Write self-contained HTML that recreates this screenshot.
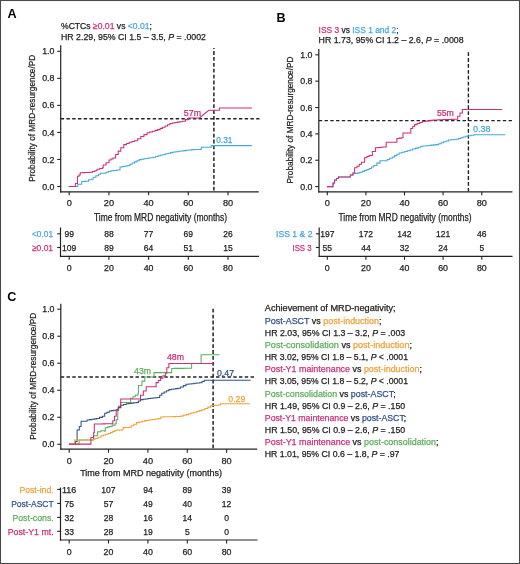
<!DOCTYPE html><html><head><meta charset="utf-8"><style>html,body{margin:0;padding:0;background:#fff;width:520px;height:564px;overflow:hidden}svg{display:block;will-change:transform}</style></head><body><svg width="520" height="564" viewBox="0 0 520 564" font-family='"Liberation Sans", sans-serif'>
<rect x="0" y="0" width="520" height="564" fill="#fff"/>
<rect x="0.5" y="0.5" width="519" height="563" fill="none" stroke="#4a4a4a" stroke-width="1.1"/>
<text x="7.5" y="17.7" font-size="12.6" fill="#000" stroke="#000" stroke-width="0" font-weight="bold">A</text>
<text x="61" y="28.6" font-size="9" fill="#222" stroke="#222" stroke-width="0.25" textLength="91" lengthAdjust="spacingAndGlyphs">%CTCs <tspan fill="#cd2f7c" stroke="#cd2f7c">≥0.01</tspan> vs <tspan fill="#48a8d6" stroke="#48a8d6">&lt;0.01</tspan>;</text>
<text x="61" y="39.6" font-size="9" fill="#222" stroke="#222" stroke-width="0.25" textLength="145" lengthAdjust="spacingAndGlyphs">HR 2.29, 95% CI 1.5 – 3.5, <tspan font-style="italic">P</tspan> = .0002</text>
<line x1="60.7" y1="45.2" x2="60.7" y2="192.4" stroke="#222" stroke-width="1.2"/>
<line x1="60.1" y1="191.8" x2="258.8" y2="191.8" stroke="#222" stroke-width="1.2"/>
<line x1="57.2" y1="186.5" x2="60.7" y2="186.5" stroke="#222" stroke-width="1.1"/>
<text x="54.400000000000006" y="189.6" font-size="8.8" fill="#222" stroke="#222" stroke-width="0.25" text-anchor="end">0.0</text>
<line x1="57.2" y1="159.46" x2="60.7" y2="159.46" stroke="#222" stroke-width="1.1"/>
<text x="54.400000000000006" y="162.56" font-size="8.8" fill="#222" stroke="#222" stroke-width="0.25" text-anchor="end">0.2</text>
<line x1="57.2" y1="132.42000000000002" x2="60.7" y2="132.42000000000002" stroke="#222" stroke-width="1.1"/>
<text x="54.400000000000006" y="135.52" font-size="8.8" fill="#222" stroke="#222" stroke-width="0.25" text-anchor="end">0.4</text>
<line x1="57.2" y1="105.38000000000001" x2="60.7" y2="105.38000000000001" stroke="#222" stroke-width="1.1"/>
<text x="54.400000000000006" y="108.48" font-size="8.8" fill="#222" stroke="#222" stroke-width="0.25" text-anchor="end">0.6</text>
<line x1="57.2" y1="78.34" x2="60.7" y2="78.34" stroke="#222" stroke-width="1.1"/>
<text x="54.400000000000006" y="81.44" font-size="8.8" fill="#222" stroke="#222" stroke-width="0.25" text-anchor="end">0.8</text>
<line x1="57.2" y1="51.30000000000001" x2="60.7" y2="51.30000000000001" stroke="#222" stroke-width="1.1"/>
<text x="54.400000000000006" y="54.40000000000001" font-size="8.8" fill="#222" stroke="#222" stroke-width="0.25" text-anchor="end">1.0</text>
<line x1="69.2" y1="191.8" x2="69.2" y2="195.3" stroke="#222" stroke-width="1.1"/>
<text x="69.2" y="206.4" font-size="9.2" fill="#222" stroke="#222" stroke-width="0.25" text-anchor="middle">0</text>
<line x1="108.9" y1="191.8" x2="108.9" y2="195.3" stroke="#222" stroke-width="1.1"/>
<text x="108.9" y="206.4" font-size="9.2" fill="#222" stroke="#222" stroke-width="0.25" text-anchor="middle">20</text>
<line x1="148.6" y1="191.8" x2="148.6" y2="195.3" stroke="#222" stroke-width="1.1"/>
<text x="148.6" y="206.4" font-size="9.2" fill="#222" stroke="#222" stroke-width="0.25" text-anchor="middle">40</text>
<line x1="188.3" y1="191.8" x2="188.3" y2="195.3" stroke="#222" stroke-width="1.1"/>
<text x="188.3" y="206.4" font-size="9.2" fill="#222" stroke="#222" stroke-width="0.25" text-anchor="middle">60</text>
<line x1="228.0" y1="191.8" x2="228.0" y2="195.3" stroke="#222" stroke-width="1.1"/>
<text x="228.0" y="206.4" font-size="9.2" fill="#222" stroke="#222" stroke-width="0.25" text-anchor="middle">80</text>
<text transform="translate(35.2,181.8) rotate(-90)" font-size="9.8" fill="#222" stroke="#222" stroke-width="0.25" textLength="127" lengthAdjust="spacingAndGlyphs">Probability of MRD-resurgence/PD</text>
<text x="94" y="220.6" font-size="10.4" fill="#222" stroke="#222" stroke-width="0.25" textLength="133" lengthAdjust="spacingAndGlyphs">Time from MRD negativity (months)</text>
<line x1="60.7" y1="118.7" x2="259.5" y2="118.7" stroke="#222" stroke-width="1.45" stroke-dasharray="3.4 2.35"/>
<line x1="213.9" y1="48.1" x2="213.9" y2="191.5" stroke="#222" stroke-width="1.5" stroke-dasharray="3.8 2.1" stroke-dashoffset="2.9"/>
<polyline points="68.80,186.50 77.80,186.50 77.80,184.20 80.50,184.20 81.70,184.20 81.70,181.50 84.00,181.50 84.00,181.35 86.30,181.35 86.30,181.20 88.60,181.20 88.60,179.80 91.00,179.80 91.00,179.20 93.20,179.20 93.20,177.30 95.90,177.30 95.90,175.75 98.60,175.75 98.60,174.20 100.50,174.20 100.50,173.20 104.00,173.20 106.00,173.20 106.00,172.30 108.40,172.30 108.40,171.55 110.80,171.55 110.80,170.80 113.90,170.80 113.90,170.40 117.00,170.40 117.00,170.00 120.00,170.00 120.00,167.00 122.57,167.00 122.57,166.47 125.13,166.47 125.13,165.93 127.70,165.93 127.70,165.40 130.00,165.40 130.00,164.20 132.30,164.20 132.30,163.00 134.60,163.00 134.60,161.87 136.90,161.87 136.90,160.73 139.20,160.73 139.20,159.60 141.50,159.60 141.50,159.22 143.80,159.22 143.80,158.83 146.10,158.83 146.10,158.45 148.40,158.45 148.40,158.07 150.70,158.07 150.70,157.68 153.00,157.68 153.00,157.30 155.60,157.30 155.60,156.53 158.20,156.53 158.20,155.77 160.80,155.77 160.80,155.00 163.24,155.00 163.24,154.40 165.68,154.40 165.68,153.80 168.12,153.80 168.12,153.20 170.56,153.20 170.56,152.60 173.00,152.60 173.00,152.00 175.64,152.00 175.64,151.66 178.29,151.66 178.29,151.31 180.93,151.31 180.93,150.97 183.57,150.97 183.57,150.63 186.21,150.63 186.21,150.29 188.86,150.29 188.86,149.94 191.50,149.94 191.50,149.60 194.33,149.60 194.33,149.53 197.17,149.53 197.17,149.47 200.00,149.47 200.00,149.40 201.25,149.40 201.25,147.25 209.40,147.25 211.25,147.25 211.25,145.60 251.90,145.60" fill="none" stroke="#48a8d6" stroke-width="1.05" stroke-linejoin="miter"/>
<polyline points="68.60,186.50 75.50,186.50 75.50,183.50 77.10,183.50 77.50,183.50 77.50,176.20 79.00,176.20 79.00,175.00 80.20,175.00 80.20,172.70 82.70,172.70 82.70,172.60 85.20,172.60 85.20,172.50 87.70,172.50 87.70,172.40 90.20,172.40 90.20,172.30 92.50,172.30 92.50,171.55 94.80,171.55 94.80,170.80 97.00,170.80 97.00,169.20 99.75,169.20 99.75,168.45 102.50,168.45 102.50,167.70 103.20,167.70 103.20,165.00 106.00,165.00 106.00,162.80 109.00,162.80 109.00,160.00 111.00,160.00 111.00,159.00 113.00,159.00 113.00,158.00 115.60,158.00 115.60,154.57 118.20,154.57 118.20,151.13 120.80,151.13 120.80,147.70 123.80,147.70 123.80,144.60 126.50,144.60 126.50,143.45 129.20,143.45 129.20,142.30 131.90,142.30 131.90,141.55 134.60,141.55 134.60,140.80 137.70,140.80 137.70,138.65 140.80,138.65 140.80,136.50 143.90,136.50 143.90,134.60 147.00,134.60 147.00,132.70 149.68,132.70 149.68,131.92 152.35,131.92 152.35,131.15 155.02,131.15 155.02,130.38 157.70,130.38 157.70,129.60 160.16,129.60 160.16,128.38 162.62,128.38 162.62,127.16 165.08,127.16 165.08,125.94 167.54,125.94 167.54,124.72 170.00,124.72 170.00,123.50 172.46,123.50 172.46,123.04 174.92,123.04 174.92,122.58 177.38,122.58 177.38,122.12 179.84,122.12 179.84,121.66 182.30,121.66 182.30,121.20 185.40,121.20 185.40,119.60 188.50,119.60 188.50,118.00 199.40,118.00" fill="none" stroke="#cd2f7c" stroke-width="1.05" stroke-linejoin="miter"/>
<polyline points="199.40,118.00 208.75,110.25 219.40,110.25 219.40,107.90 251.90,107.90" fill="none" stroke="#cd2f7c" stroke-width="1.05" stroke-linejoin="miter"/>
<text x="183.8" y="115.8" font-size="9" fill="#cd2f7c" stroke="#cd2f7c" stroke-width="0.25" textLength="17.2" lengthAdjust="spacingAndGlyphs">57m</text>
<text x="216.2" y="142.8" font-size="9" fill="#48a8d6" stroke="#48a8d6" stroke-width="0.25" textLength="16.3" lengthAdjust="spacingAndGlyphs">0.31</text>
<line x1="60.5" y1="227.5" x2="60.5" y2="256.9" stroke="#222" stroke-width="1.2"/>
<line x1="59.9" y1="256.3" x2="259" y2="256.3" stroke="#222" stroke-width="1.2"/>
<line x1="57.2" y1="233.8" x2="60.5" y2="233.8" stroke="#222" stroke-width="1.1"/>
<line x1="57.2" y1="247.5" x2="60.5" y2="247.5" stroke="#222" stroke-width="1.1"/>
<text x="53" y="236.7" font-size="9.3" fill="#48a8d6" stroke="#48a8d6" stroke-width="0.25" text-anchor="end" textLength="21" lengthAdjust="spacingAndGlyphs">&lt;0.01</text>
<text x="53" y="250.5" font-size="9.3" fill="#cd2f7c" stroke="#cd2f7c" stroke-width="0.25" text-anchor="end" textLength="21" lengthAdjust="spacingAndGlyphs">≥0.01</text>
<text x="69.2" y="236.7" font-size="9.2" fill="#222" stroke="#222" stroke-width="0.25" text-anchor="middle" textLength="9.51" lengthAdjust="spacingAndGlyphs">99</text>
<text x="69.2" y="250.5" font-size="9.2" fill="#222" stroke="#222" stroke-width="0.25" text-anchor="middle" textLength="14.27" lengthAdjust="spacingAndGlyphs">109</text>
<text x="108.9" y="236.7" font-size="9.2" fill="#222" stroke="#222" stroke-width="0.25" text-anchor="middle" textLength="9.51" lengthAdjust="spacingAndGlyphs">88</text>
<text x="108.9" y="250.5" font-size="9.2" fill="#222" stroke="#222" stroke-width="0.25" text-anchor="middle" textLength="9.51" lengthAdjust="spacingAndGlyphs">89</text>
<text x="148.6" y="236.7" font-size="9.2" fill="#222" stroke="#222" stroke-width="0.25" text-anchor="middle" textLength="9.51" lengthAdjust="spacingAndGlyphs">77</text>
<text x="148.6" y="250.5" font-size="9.2" fill="#222" stroke="#222" stroke-width="0.25" text-anchor="middle" textLength="9.51" lengthAdjust="spacingAndGlyphs">64</text>
<text x="188.3" y="236.7" font-size="9.2" fill="#222" stroke="#222" stroke-width="0.25" text-anchor="middle" textLength="9.51" lengthAdjust="spacingAndGlyphs">69</text>
<text x="188.3" y="250.5" font-size="9.2" fill="#222" stroke="#222" stroke-width="0.25" text-anchor="middle" textLength="9.51" lengthAdjust="spacingAndGlyphs">51</text>
<text x="228.0" y="236.7" font-size="9.2" fill="#222" stroke="#222" stroke-width="0.25" text-anchor="middle" textLength="9.51" lengthAdjust="spacingAndGlyphs">26</text>
<text x="228.0" y="250.5" font-size="9.2" fill="#222" stroke="#222" stroke-width="0.25" text-anchor="middle" textLength="9.51" lengthAdjust="spacingAndGlyphs">15</text>
<line x1="69.2" y1="256.3" x2="69.2" y2="259.8" stroke="#222" stroke-width="1.1"/>
<text x="69.2" y="270.7" font-size="8.8" fill="#222" stroke="#222" stroke-width="0.25" text-anchor="middle">0</text>
<line x1="108.9" y1="256.3" x2="108.9" y2="259.8" stroke="#222" stroke-width="1.1"/>
<text x="108.9" y="270.7" font-size="8.8" fill="#222" stroke="#222" stroke-width="0.25" text-anchor="middle">20</text>
<line x1="148.6" y1="256.3" x2="148.6" y2="259.8" stroke="#222" stroke-width="1.1"/>
<text x="148.6" y="270.7" font-size="8.8" fill="#222" stroke="#222" stroke-width="0.25" text-anchor="middle">40</text>
<line x1="188.3" y1="256.3" x2="188.3" y2="259.8" stroke="#222" stroke-width="1.1"/>
<text x="188.3" y="270.7" font-size="8.8" fill="#222" stroke="#222" stroke-width="0.25" text-anchor="middle">60</text>
<line x1="228.0" y1="256.3" x2="228.0" y2="259.8" stroke="#222" stroke-width="1.1"/>
<text x="228.0" y="270.7" font-size="8.8" fill="#222" stroke="#222" stroke-width="0.25" text-anchor="middle">80</text>
<text x="276.4" y="21.5" font-size="12.6" fill="#000" stroke="#000" stroke-width="0" font-weight="bold">B</text>
<text x="318.6" y="32.5" font-size="9" fill="#222" stroke="#222" stroke-width="0.25" textLength="80" lengthAdjust="spacingAndGlyphs"><tspan fill="#cd2f7c" stroke="#cd2f7c">ISS 3</tspan> vs <tspan fill="#48a8d6" stroke="#48a8d6">ISS 1 and 2</tspan>;</text>
<text x="318.6" y="43.2" font-size="9" fill="#222" stroke="#222" stroke-width="0.25" textLength="145" lengthAdjust="spacingAndGlyphs">HR 1.73, 95% CI 1.2 – 2.6, <tspan font-style="italic">P</tspan> = .0008</text>
<line x1="318.8" y1="49" x2="318.8" y2="192.4" stroke="#222" stroke-width="1.2"/>
<line x1="318.2" y1="191.8" x2="512.4" y2="191.8" stroke="#222" stroke-width="1.2"/>
<line x1="315.3" y1="186.6" x2="318.8" y2="186.6" stroke="#222" stroke-width="1.1"/>
<text x="312.5" y="189.7" font-size="8.8" fill="#222" stroke="#222" stroke-width="0.25" text-anchor="end">0.0</text>
<line x1="315.3" y1="160.23999999999998" x2="318.8" y2="160.23999999999998" stroke="#222" stroke-width="1.1"/>
<text x="312.5" y="163.33999999999997" font-size="8.8" fill="#222" stroke="#222" stroke-width="0.25" text-anchor="end">0.2</text>
<line x1="315.3" y1="133.88" x2="318.8" y2="133.88" stroke="#222" stroke-width="1.1"/>
<text x="312.5" y="136.98" font-size="8.8" fill="#222" stroke="#222" stroke-width="0.25" text-anchor="end">0.4</text>
<line x1="315.3" y1="107.51999999999998" x2="318.8" y2="107.51999999999998" stroke="#222" stroke-width="1.1"/>
<text x="312.5" y="110.61999999999998" font-size="8.8" fill="#222" stroke="#222" stroke-width="0.25" text-anchor="end">0.6</text>
<line x1="315.3" y1="81.15999999999998" x2="318.8" y2="81.15999999999998" stroke="#222" stroke-width="1.1"/>
<text x="312.5" y="84.25999999999998" font-size="8.8" fill="#222" stroke="#222" stroke-width="0.25" text-anchor="end">0.8</text>
<line x1="315.3" y1="54.79999999999998" x2="318.8" y2="54.79999999999998" stroke="#222" stroke-width="1.1"/>
<text x="312.5" y="57.899999999999984" font-size="8.8" fill="#222" stroke="#222" stroke-width="0.25" text-anchor="end">1.0</text>
<line x1="327.3" y1="191.8" x2="327.3" y2="195.3" stroke="#222" stroke-width="1.1"/>
<text x="327.3" y="206.4" font-size="9.2" fill="#222" stroke="#222" stroke-width="0.25" text-anchor="middle">0</text>
<line x1="365.9" y1="191.8" x2="365.9" y2="195.3" stroke="#222" stroke-width="1.1"/>
<text x="365.9" y="206.4" font-size="9.2" fill="#222" stroke="#222" stroke-width="0.25" text-anchor="middle">20</text>
<line x1="404.5" y1="191.8" x2="404.5" y2="195.3" stroke="#222" stroke-width="1.1"/>
<text x="404.5" y="206.4" font-size="9.2" fill="#222" stroke="#222" stroke-width="0.25" text-anchor="middle">40</text>
<line x1="443.1" y1="191.8" x2="443.1" y2="195.3" stroke="#222" stroke-width="1.1"/>
<text x="443.1" y="206.4" font-size="9.2" fill="#222" stroke="#222" stroke-width="0.25" text-anchor="middle">60</text>
<line x1="481.8" y1="191.8" x2="481.8" y2="195.3" stroke="#222" stroke-width="1.1"/>
<text x="481.8" y="206.4" font-size="9.2" fill="#222" stroke="#222" stroke-width="0.25" text-anchor="middle">80</text>
<text transform="translate(293.4,183.5) rotate(-90)" font-size="9.8" fill="#222" stroke="#222" stroke-width="0.25" textLength="127" lengthAdjust="spacingAndGlyphs">Probability of MRD-resurgence/PD</text>
<text x="338.5" y="220.5" font-size="10.4" fill="#222" stroke="#222" stroke-width="0.25" textLength="133" lengthAdjust="spacingAndGlyphs">Time from MRD negativity (months)</text>
<line x1="318.8" y1="120.6" x2="512.4" y2="120.6" stroke="#222" stroke-width="1.45" stroke-dasharray="3.4 2.35"/>
<line x1="468.4" y1="52.2" x2="468.4" y2="191.5" stroke="#222" stroke-width="1.4" stroke-dasharray="3.8 2.1" stroke-dashoffset="0"/>
<polyline points="326.90,186.60 332.30,186.60 333.00,186.60 333.00,183.00 334.60,183.00 334.60,180.00 336.55,180.00 336.55,178.45 338.50,178.45 338.50,176.90 347.70,176.90 350.35,176.90 350.35,174.95 353.00,174.95 353.00,173.00 355.40,173.00 355.40,173.40 357.70,173.40 357.70,172.85 360.00,172.85 360.00,172.30 362.30,172.30 362.30,171.35 364.60,171.35 364.60,170.40 366.90,170.40 366.90,169.45 369.20,169.45 369.20,168.50 371.50,168.50 371.50,166.95 373.80,166.95 373.80,165.40 376.90,165.40 376.90,163.10 380.00,163.10 380.00,160.80 384.60,160.80 387.17,160.80 387.17,159.50 389.73,159.50 389.73,158.20 392.30,158.20 392.30,156.90 394.60,156.90 394.60,155.60 396.90,155.60 396.90,154.30 399.20,154.30 399.20,153.00 401.90,153.00 401.90,152.25 404.60,152.25 404.60,151.50 407.30,151.50 407.30,150.75 410.00,150.75 410.00,150.00 412.70,150.00 412.70,149.05 415.40,149.05 415.40,148.10 418.10,148.10 418.10,147.15 420.80,147.15 420.80,146.20 423.37,146.20 423.37,145.93 425.93,145.93 425.93,145.67 428.50,145.67 428.50,145.40 431.07,145.40 431.07,145.13 433.63,145.13 433.63,144.87 436.20,144.87 436.20,144.60 438.66,144.60 438.66,143.68 441.12,143.68 441.12,142.76 443.58,142.76 443.58,141.84 446.04,141.84 446.04,140.92 448.50,140.92 448.50,140.00 451.07,140.00 451.07,139.73 453.63,139.73 453.63,139.47 456.20,139.47 456.20,139.20 458.50,139.20 458.50,138.45 460.80,138.45 460.80,137.70 463.10,137.70 463.10,136.95 465.40,136.95 465.40,136.20 468.20,136.20 468.20,135.70 471.00,135.70 471.00,135.20 473.80,135.20 473.80,134.70 505.40,134.70" fill="none" stroke="#48a8d6" stroke-width="1.05" stroke-linejoin="miter"/>
<polyline points="326.90,186.60 332.30,186.60 333.00,186.60 333.00,183.00 334.60,183.00 334.60,180.00 336.55,180.00 336.55,178.45 338.50,178.45 338.50,176.90 347.70,176.90 350.35,176.90 350.35,174.95 353.00,174.95 353.00,173.00 354.60,173.00 354.60,167.70 357.00,167.70 357.00,166.20 359.25,166.20 359.25,164.25 361.50,164.25 361.50,162.30 364.60,162.30 364.60,157.70 366.90,157.70 366.90,156.55 369.20,156.55 369.20,155.40 372.30,155.40 372.30,151.55 375.40,151.55 375.40,147.70 377.93,147.70 377.93,147.43 380.47,147.43 380.47,147.17 383.00,147.17 383.00,146.90 386.20,146.90 386.20,142.30 394.60,142.30 396.90,142.30 396.90,138.50 399.20,138.50 399.20,138.10 401.50,138.10 401.50,137.70 403.00,137.70 403.00,133.00 407.70,133.00 410.80,133.00 410.80,128.50 412.70,128.50 412.70,126.55 414.60,126.55 414.60,124.60 417.17,124.60 417.17,123.57 419.73,123.57 419.73,122.53 422.30,122.53 422.30,121.50 424.98,121.50 424.98,121.12 427.65,121.12 427.65,120.75 430.32,120.75 430.32,120.38 433.00,120.38 433.00,120.00 435.58,120.00 435.58,119.91 438.16,119.91 438.16,119.82 440.73,119.82 440.73,119.73 443.31,119.73 443.31,119.64 445.89,119.64 445.89,119.56 448.47,119.56 448.47,119.47 451.04,119.47 451.04,119.38 453.62,119.38 453.62,119.29 456.20,119.29 456.20,119.20 457.70,119.20 457.70,116.20 460.00,116.20 460.00,113.00 462.30,113.00 462.30,109.40 502.30,109.40" fill="none" stroke="#cd2f7c" stroke-width="1.05" stroke-linejoin="miter"/>
<text x="436.9" y="116.3" font-size="9" fill="#cd2f7c" stroke="#cd2f7c" stroke-width="0.25" textLength="17" lengthAdjust="spacingAndGlyphs">55m</text>
<text x="473" y="132" font-size="9" fill="#48a8d6" stroke="#48a8d6" stroke-width="0.25" textLength="17.5" lengthAdjust="spacingAndGlyphs">0.38</text>
<line x1="319.2" y1="227.5" x2="319.2" y2="256.9" stroke="#222" stroke-width="1.2"/>
<line x1="318.6" y1="256.3" x2="512.5" y2="256.3" stroke="#222" stroke-width="1.2"/>
<line x1="315.9" y1="233.8" x2="319.2" y2="233.8" stroke="#222" stroke-width="1.1"/>
<line x1="315.9" y1="247.5" x2="319.2" y2="247.5" stroke="#222" stroke-width="1.1"/>
<text x="312.5" y="237.2" font-size="9.3" fill="#48a8d6" stroke="#48a8d6" stroke-width="0.25" text-anchor="end" textLength="36.5" lengthAdjust="spacingAndGlyphs">ISS 1 &amp; 2</text>
<text x="311.5" y="250.9" font-size="9.3" fill="#cd2f7c" stroke="#cd2f7c" stroke-width="0.25" text-anchor="end" textLength="19" lengthAdjust="spacingAndGlyphs">ISS 3</text>
<text x="327.3" y="237.0" font-size="9.2" fill="#222" stroke="#222" stroke-width="0.25" text-anchor="middle" textLength="14.27" lengthAdjust="spacingAndGlyphs">197</text>
<text x="327.3" y="250.8" font-size="9.2" fill="#222" stroke="#222" stroke-width="0.25" text-anchor="middle" textLength="9.51" lengthAdjust="spacingAndGlyphs">55</text>
<text x="365.9" y="237.0" font-size="9.2" fill="#222" stroke="#222" stroke-width="0.25" text-anchor="middle" textLength="14.27" lengthAdjust="spacingAndGlyphs">172</text>
<text x="365.9" y="250.8" font-size="9.2" fill="#222" stroke="#222" stroke-width="0.25" text-anchor="middle" textLength="9.51" lengthAdjust="spacingAndGlyphs">44</text>
<text x="404.5" y="237.0" font-size="9.2" fill="#222" stroke="#222" stroke-width="0.25" text-anchor="middle" textLength="14.27" lengthAdjust="spacingAndGlyphs">142</text>
<text x="404.5" y="250.8" font-size="9.2" fill="#222" stroke="#222" stroke-width="0.25" text-anchor="middle" textLength="9.51" lengthAdjust="spacingAndGlyphs">32</text>
<text x="443.1" y="237.0" font-size="9.2" fill="#222" stroke="#222" stroke-width="0.25" text-anchor="middle" textLength="14.27" lengthAdjust="spacingAndGlyphs">121</text>
<text x="443.1" y="250.8" font-size="9.2" fill="#222" stroke="#222" stroke-width="0.25" text-anchor="middle" textLength="9.51" lengthAdjust="spacingAndGlyphs">24</text>
<text x="481.8" y="237.0" font-size="9.2" fill="#222" stroke="#222" stroke-width="0.25" text-anchor="middle" textLength="9.51" lengthAdjust="spacingAndGlyphs">46</text>
<text x="481.8" y="250.8" font-size="9.2" fill="#222" stroke="#222" stroke-width="0.25" text-anchor="middle" textLength="4.76" lengthAdjust="spacingAndGlyphs">5</text>
<line x1="327.3" y1="256.3" x2="327.3" y2="259.8" stroke="#222" stroke-width="1.1"/>
<text x="327.3" y="270.5" font-size="8.8" fill="#222" stroke="#222" stroke-width="0.25" text-anchor="middle">0</text>
<line x1="365.9" y1="256.3" x2="365.9" y2="259.8" stroke="#222" stroke-width="1.1"/>
<text x="365.9" y="270.5" font-size="8.8" fill="#222" stroke="#222" stroke-width="0.25" text-anchor="middle">20</text>
<line x1="404.5" y1="256.3" x2="404.5" y2="259.8" stroke="#222" stroke-width="1.1"/>
<text x="404.5" y="270.5" font-size="8.8" fill="#222" stroke="#222" stroke-width="0.25" text-anchor="middle">40</text>
<line x1="443.1" y1="256.3" x2="443.1" y2="259.8" stroke="#222" stroke-width="1.1"/>
<text x="443.1" y="270.5" font-size="8.8" fill="#222" stroke="#222" stroke-width="0.25" text-anchor="middle">60</text>
<line x1="481.8" y1="256.3" x2="481.8" y2="259.8" stroke="#222" stroke-width="1.1"/>
<text x="481.8" y="270.5" font-size="8.8" fill="#222" stroke="#222" stroke-width="0.25" text-anchor="middle">80</text>
<text x="7.2" y="300.6" font-size="12.6" fill="#000" stroke="#000" stroke-width="0" font-weight="bold">C</text>
<line x1="60.8" y1="303.8" x2="60.8" y2="449.8" stroke="#222" stroke-width="1.2"/>
<line x1="60.199999999999996" y1="449.2" x2="257.2" y2="449.2" stroke="#222" stroke-width="1.2"/>
<line x1="57.3" y1="444.3" x2="60.8" y2="444.3" stroke="#222" stroke-width="1.1"/>
<text x="54.5" y="447.40000000000003" font-size="8.8" fill="#222" stroke="#222" stroke-width="0.25" text-anchor="end">0.0</text>
<line x1="57.3" y1="417.28000000000003" x2="60.8" y2="417.28000000000003" stroke="#222" stroke-width="1.1"/>
<text x="54.5" y="420.38000000000005" font-size="8.8" fill="#222" stroke="#222" stroke-width="0.25" text-anchor="end">0.2</text>
<line x1="57.3" y1="390.26" x2="60.8" y2="390.26" stroke="#222" stroke-width="1.1"/>
<text x="54.5" y="393.36" font-size="8.8" fill="#222" stroke="#222" stroke-width="0.25" text-anchor="end">0.4</text>
<line x1="57.3" y1="363.24" x2="60.8" y2="363.24" stroke="#222" stroke-width="1.1"/>
<text x="54.5" y="366.34000000000003" font-size="8.8" fill="#222" stroke="#222" stroke-width="0.25" text-anchor="end">0.6</text>
<line x1="57.3" y1="336.22" x2="60.8" y2="336.22" stroke="#222" stroke-width="1.1"/>
<text x="54.5" y="339.32000000000005" font-size="8.8" fill="#222" stroke="#222" stroke-width="0.25" text-anchor="end">0.8</text>
<line x1="57.3" y1="309.2" x2="60.8" y2="309.2" stroke="#222" stroke-width="1.1"/>
<text x="54.5" y="312.3" font-size="8.8" fill="#222" stroke="#222" stroke-width="0.25" text-anchor="end">1.0</text>
<line x1="69.2" y1="449.2" x2="69.2" y2="452.7" stroke="#222" stroke-width="1.1"/>
<text x="69.2" y="463.8" font-size="9.2" fill="#222" stroke="#222" stroke-width="0.25" text-anchor="middle">0</text>
<line x1="108.5" y1="449.2" x2="108.5" y2="452.7" stroke="#222" stroke-width="1.1"/>
<text x="108.5" y="463.8" font-size="9.2" fill="#222" stroke="#222" stroke-width="0.25" text-anchor="middle">20</text>
<line x1="147.9" y1="449.2" x2="147.9" y2="452.7" stroke="#222" stroke-width="1.1"/>
<text x="147.9" y="463.8" font-size="9.2" fill="#222" stroke="#222" stroke-width="0.25" text-anchor="middle">40</text>
<line x1="187.3" y1="449.2" x2="187.3" y2="452.7" stroke="#222" stroke-width="1.1"/>
<text x="187.3" y="463.8" font-size="9.2" fill="#222" stroke="#222" stroke-width="0.25" text-anchor="middle">60</text>
<line x1="226.6" y1="449.2" x2="226.6" y2="452.7" stroke="#222" stroke-width="1.1"/>
<text x="226.6" y="463.8" font-size="9.2" fill="#222" stroke="#222" stroke-width="0.25" text-anchor="middle">80</text>
<text transform="translate(35.9,439.8) rotate(-90)" font-size="9.8" fill="#222" stroke="#222" stroke-width="0.25" textLength="127" lengthAdjust="spacingAndGlyphs">Probability of MRD-resurgence/PD</text>
<text x="80.2" y="475.8" font-size="9.4" fill="#222" stroke="#222" stroke-width="0.25" textLength="141.8" lengthAdjust="spacingAndGlyphs">Time from MRD negativity (months)</text>
<line x1="60.8" y1="377" x2="256" y2="377" stroke="#222" stroke-width="1.35" stroke-dasharray="3.4 2.35"/>
<line x1="213.1" y1="308.8" x2="213.1" y2="449" stroke="#222" stroke-width="1.5" stroke-dasharray="3.8 2.1" stroke-dashoffset="0"/>
<polyline points="69.20,444.30 79.10,444.30 79.10,439.90 92.90,439.90 93.60,439.90 93.60,435.80 97.00,435.80 97.00,435.50 97.60,435.50 97.60,431.80 101.00,431.80 101.00,430.80 104.70,430.80 104.70,431.20 105.30,431.20 105.30,427.70 107.30,427.70 107.30,427.10 109.30,427.10 109.30,426.50 112.15,426.50 112.15,425.10 115.00,425.10 115.00,423.70 116.20,423.70 116.20,419.60 117.80,419.60 117.80,408.00 120.70,408.00 120.70,402.40 129.90,402.40 130.60,402.40 130.60,398.20 132.97,398.20 132.97,396.77 135.33,396.77 135.33,395.33 137.70,395.33 137.70,393.90 138.40,393.90 138.40,385.40 142.00,385.40 142.00,381.10 144.80,381.10 144.80,376.90 153.30,376.90 154.00,376.90 154.00,372.60 170.30,372.60 171.70,372.60 171.70,368.40 174.19,368.40 174.19,368.39 176.67,368.39 176.67,368.38 179.16,368.38 179.16,368.36 181.65,368.36 181.65,368.35 184.14,368.35 184.14,368.34 186.62,368.34 186.62,368.32 189.11,368.32 189.11,368.31 191.60,368.31 191.60,368.30 191.60,363.50 201.10,363.50 201.10,354.80 219.50,354.80" fill="none" stroke="#5eae5e" stroke-width="1.05" stroke-linejoin="miter"/>
<polyline points="69.20,444.30 75.50,444.30 75.50,441.50 77.10,441.50 77.10,430.00 79.30,430.00 79.30,426.50 81.10,426.50 81.10,421.30 87.00,421.30 87.00,420.00 89.40,420.00 89.40,419.62 91.80,419.62 91.80,419.25 94.20,419.25 94.20,418.88 96.60,418.88 96.60,418.50 99.50,418.50 99.50,417.35 102.40,417.35 102.40,416.20 104.70,416.20 104.70,413.30 107.00,413.30 107.00,412.15 109.30,412.15 109.30,411.00 111.60,411.00 111.60,410.60 113.90,410.60 113.90,410.20 116.20,410.20 116.20,409.80 118.45,409.80 118.45,407.50 120.70,407.50 120.70,405.20 123.50,405.20 123.50,404.50 126.30,404.50 126.30,403.80 128.80,403.80 128.80,403.45 131.30,403.45 131.30,403.10 133.80,403.10 133.80,402.75 136.30,402.75 136.30,402.40 138.40,402.40 138.40,401.00 140.50,401.00 140.50,399.60 143.00,399.60 143.00,399.25 145.50,399.25 145.50,398.90 148.00,398.90 148.00,398.55 150.50,398.55 150.50,398.20 152.87,398.20 152.87,397.93 155.23,397.93 155.23,397.67 157.60,397.67 157.60,397.40 159.70,397.40 159.70,395.30 161.80,395.30 161.80,393.20 164.17,393.20 164.17,392.00 166.53,392.00 166.53,390.80 168.90,390.80 168.90,389.60 171.18,389.60 171.18,389.28 173.45,389.28 173.45,388.95 175.72,388.95 175.72,388.62 178.00,388.62 178.00,388.30 180.67,388.30 180.67,386.97 183.33,386.97 183.33,385.63 186.00,385.63 186.00,384.30 188.70,384.30 188.70,383.98 191.40,383.98 191.40,383.66 194.10,383.66 194.10,383.34 196.80,383.34 196.80,383.02 199.50,383.02 199.50,382.70 201.90,382.70 201.90,381.50 204.30,381.50 204.30,380.30 250.60,380.30" fill="none" stroke="#305287" stroke-width="1.05" stroke-linejoin="miter"/>
<polyline points="69.20,444.30 74.70,444.30 74.70,439.90 90.20,439.90 92.90,439.90 92.90,439.50 94.90,439.50 94.90,438.50 97.95,438.50 97.95,437.15 101.00,437.15 101.00,435.80 103.40,435.80 103.40,435.03 105.80,435.03 105.80,434.27 108.20,434.27 108.20,433.50 110.47,433.50 110.47,432.43 112.73,432.43 112.73,431.37 115.00,431.37 115.00,430.30 117.23,430.30 117.23,430.10 119.47,430.10 119.47,429.90 121.70,429.90 121.70,429.70 123.10,429.70 123.10,427.60 125.80,427.60 125.80,427.45 128.50,427.45 128.50,427.30 131.17,427.30 131.17,425.73 133.83,425.73 133.83,424.17 136.50,424.17 136.50,422.60 139.20,422.60 139.20,421.93 141.90,421.93 141.90,421.27 144.60,421.27 144.60,420.60 147.30,420.60 147.30,420.20 150.00,420.20 150.00,419.80 152.70,419.80 152.70,419.40 155.40,419.40 155.40,419.00 158.10,419.00 158.10,418.60 160.80,418.60 160.80,416.90 163.30,416.90 163.30,416.84 165.80,416.84 165.80,416.79 168.30,416.79 168.30,416.73 170.80,416.73 170.80,416.67 173.30,416.67 173.30,416.61 175.80,416.61 175.80,416.56 178.30,416.56 178.30,416.50 181.00,416.50 181.00,415.90 183.50,415.90 183.50,415.25 186.00,415.25 186.00,414.60 188.67,414.60 188.67,413.80 191.33,413.80 191.33,413.00 194.00,413.00 194.00,412.20 196.67,412.20 196.67,411.40 199.33,411.40 199.33,410.60 202.00,410.60 202.00,409.80 204.90,409.80 204.90,408.47 207.80,408.47 207.80,407.13 210.70,407.13 210.70,405.80 213.13,405.80 213.13,405.53 215.57,405.53 215.57,405.27 218.00,405.27 218.00,405.00 220.30,405.00 220.30,403.80 249.80,403.80" fill="none" stroke="#eca23a" stroke-width="1.05" stroke-linejoin="miter"/>
<polyline points="68.90,444.10 90.90,444.10 90.90,437.50 93.60,437.50 93.60,432.80 94.30,432.80 94.30,424.00 97.00,424.00 97.00,423.95 99.70,423.95 99.70,423.90 102.40,423.90 102.40,423.85 105.10,423.85 105.10,423.80 107.80,423.80 107.80,423.75 110.50,423.75 110.50,423.70 112.80,423.70 112.80,420.80 114.50,420.80 114.50,416.20 116.20,416.20 116.20,410.40 118.50,410.40 118.50,406.30 120.70,406.30 120.70,398.90 139.10,398.90 140.50,398.90 140.50,395.30 143.35,395.30 143.35,391.05 146.20,391.05 146.20,386.80 153.30,386.80 156.10,386.80 156.10,382.60 158.25,382.60 158.25,380.45 160.40,380.45 160.40,378.30 162.90,378.30 162.90,375.80 165.40,375.80 165.40,373.30 166.80,373.30 166.80,367.70 168.90,367.70 168.90,363.40 213.10,363.40" fill="none" stroke="#cd2f7c" stroke-width="1.05" stroke-linejoin="miter"/>
<text x="134.1" y="374" font-size="9" fill="#5eae5e" stroke="#5eae5e" stroke-width="0.25" textLength="17" lengthAdjust="spacingAndGlyphs">43m</text>
<text x="167" y="360.3" font-size="9" fill="#cd2f7c" stroke="#cd2f7c" stroke-width="0.25" textLength="17" lengthAdjust="spacingAndGlyphs">48m</text>
<text x="217" y="375.8" font-size="9" fill="#305287" stroke="#305287" stroke-width="0.25" textLength="17" lengthAdjust="spacingAndGlyphs">0.47</text>
<text x="228.3" y="401.9" font-size="9" fill="#eca23a" stroke="#eca23a" stroke-width="0.25" textLength="17" lengthAdjust="spacingAndGlyphs">0.29</text>
<line x1="60.5" y1="487.5" x2="60.5" y2="540.6" stroke="#222" stroke-width="1.2"/>
<line x1="59.9" y1="540" x2="257.5" y2="540" stroke="#222" stroke-width="1.2"/>
<line x1="57.2" y1="489.4" x2="60.5" y2="489.4" stroke="#222" stroke-width="1.1"/>
<text x="53.7" y="492.7" font-size="9.3" fill="#eca23a" stroke="#eca23a" stroke-width="0.25" text-anchor="end" textLength="34.3" lengthAdjust="spacingAndGlyphs">Post-ind.</text>
<text x="69.2" y="492.7" font-size="9.2" fill="#222" stroke="#222" stroke-width="0.25" text-anchor="middle" textLength="14.27" lengthAdjust="spacingAndGlyphs">116</text>
<text x="108.5" y="492.7" font-size="9.2" fill="#222" stroke="#222" stroke-width="0.25" text-anchor="middle" textLength="14.27" lengthAdjust="spacingAndGlyphs">107</text>
<text x="147.9" y="492.7" font-size="9.2" fill="#222" stroke="#222" stroke-width="0.25" text-anchor="middle" textLength="9.51" lengthAdjust="spacingAndGlyphs">94</text>
<text x="187.3" y="492.7" font-size="9.2" fill="#222" stroke="#222" stroke-width="0.25" text-anchor="middle" textLength="9.51" lengthAdjust="spacingAndGlyphs">89</text>
<text x="226.6" y="492.7" font-size="9.2" fill="#222" stroke="#222" stroke-width="0.25" text-anchor="middle" textLength="9.51" lengthAdjust="spacingAndGlyphs">39</text>
<line x1="57.2" y1="503.4" x2="60.5" y2="503.4" stroke="#222" stroke-width="1.1"/>
<text x="53.7" y="506.7" font-size="9.3" fill="#305287" stroke="#305287" stroke-width="0.25" text-anchor="end" textLength="42.5" lengthAdjust="spacingAndGlyphs">Post-ASCT</text>
<text x="69.2" y="506.7" font-size="9.2" fill="#222" stroke="#222" stroke-width="0.25" text-anchor="middle" textLength="9.51" lengthAdjust="spacingAndGlyphs">75</text>
<text x="108.5" y="506.7" font-size="9.2" fill="#222" stroke="#222" stroke-width="0.25" text-anchor="middle" textLength="9.51" lengthAdjust="spacingAndGlyphs">57</text>
<text x="147.9" y="506.7" font-size="9.2" fill="#222" stroke="#222" stroke-width="0.25" text-anchor="middle" textLength="9.51" lengthAdjust="spacingAndGlyphs">49</text>
<text x="187.3" y="506.7" font-size="9.2" fill="#222" stroke="#222" stroke-width="0.25" text-anchor="middle" textLength="9.51" lengthAdjust="spacingAndGlyphs">40</text>
<text x="226.6" y="506.7" font-size="9.2" fill="#222" stroke="#222" stroke-width="0.25" text-anchor="middle" textLength="9.51" lengthAdjust="spacingAndGlyphs">12</text>
<line x1="57.2" y1="517.4" x2="60.5" y2="517.4" stroke="#222" stroke-width="1.1"/>
<text x="53.7" y="520.6999999999999" font-size="9.3" fill="#5eae5e" stroke="#5eae5e" stroke-width="0.25" text-anchor="end" textLength="41.3" lengthAdjust="spacingAndGlyphs">Post-cons.</text>
<text x="69.2" y="520.6999999999999" font-size="9.2" fill="#222" stroke="#222" stroke-width="0.25" text-anchor="middle" textLength="9.51" lengthAdjust="spacingAndGlyphs">32</text>
<text x="108.5" y="520.6999999999999" font-size="9.2" fill="#222" stroke="#222" stroke-width="0.25" text-anchor="middle" textLength="9.51" lengthAdjust="spacingAndGlyphs">28</text>
<text x="147.9" y="520.6999999999999" font-size="9.2" fill="#222" stroke="#222" stroke-width="0.25" text-anchor="middle" textLength="9.51" lengthAdjust="spacingAndGlyphs">16</text>
<text x="187.3" y="520.6999999999999" font-size="9.2" fill="#222" stroke="#222" stroke-width="0.25" text-anchor="middle" textLength="9.51" lengthAdjust="spacingAndGlyphs">14</text>
<text x="226.6" y="520.6999999999999" font-size="9.2" fill="#222" stroke="#222" stroke-width="0.25" text-anchor="middle" textLength="4.76" lengthAdjust="spacingAndGlyphs">0</text>
<line x1="57.2" y1="531.3" x2="60.5" y2="531.3" stroke="#222" stroke-width="1.1"/>
<text x="53.7" y="534.5999999999999" font-size="9.3" fill="#cd2f7c" stroke="#cd2f7c" stroke-width="0.25" text-anchor="end" textLength="46" lengthAdjust="spacingAndGlyphs">Post-Y1 mt.</text>
<text x="69.2" y="534.5999999999999" font-size="9.2" fill="#222" stroke="#222" stroke-width="0.25" text-anchor="middle" textLength="9.51" lengthAdjust="spacingAndGlyphs">33</text>
<text x="108.5" y="534.5999999999999" font-size="9.2" fill="#222" stroke="#222" stroke-width="0.25" text-anchor="middle" textLength="9.51" lengthAdjust="spacingAndGlyphs">28</text>
<text x="147.9" y="534.5999999999999" font-size="9.2" fill="#222" stroke="#222" stroke-width="0.25" text-anchor="middle" textLength="9.51" lengthAdjust="spacingAndGlyphs">19</text>
<text x="187.3" y="534.5999999999999" font-size="9.2" fill="#222" stroke="#222" stroke-width="0.25" text-anchor="middle" textLength="4.76" lengthAdjust="spacingAndGlyphs">5</text>
<text x="226.6" y="534.5999999999999" font-size="9.2" fill="#222" stroke="#222" stroke-width="0.25" text-anchor="middle" textLength="4.76" lengthAdjust="spacingAndGlyphs">0</text>
<line x1="69.2" y1="540" x2="69.2" y2="543.5" stroke="#222" stroke-width="1.1"/>
<text x="69.2" y="555" font-size="8.8" fill="#222" stroke="#222" stroke-width="0.25" text-anchor="middle">0</text>
<line x1="108.5" y1="540" x2="108.5" y2="543.5" stroke="#222" stroke-width="1.1"/>
<text x="108.5" y="555" font-size="8.8" fill="#222" stroke="#222" stroke-width="0.25" text-anchor="middle">20</text>
<line x1="147.9" y1="540" x2="147.9" y2="543.5" stroke="#222" stroke-width="1.1"/>
<text x="147.9" y="555" font-size="8.8" fill="#222" stroke="#222" stroke-width="0.25" text-anchor="middle">40</text>
<line x1="187.3" y1="540" x2="187.3" y2="543.5" stroke="#222" stroke-width="1.1"/>
<text x="187.3" y="555" font-size="8.8" fill="#222" stroke="#222" stroke-width="0.25" text-anchor="middle">60</text>
<line x1="226.6" y1="540" x2="226.6" y2="543.5" stroke="#222" stroke-width="1.1"/>
<text x="226.6" y="555" font-size="8.8" fill="#222" stroke="#222" stroke-width="0.25" text-anchor="middle">80</text>
<text x="264.8" y="311.40" font-size="9" fill="#222" stroke-width="0.25" textLength="130.8" lengthAdjust="spacingAndGlyphs"><tspan fill="#222" stroke="#222">Achievement of MRD-negativity;</tspan></text>
<text x="264.8" y="323.56" font-size="9" fill="#222" stroke-width="0.25" textLength="116.7" lengthAdjust="spacingAndGlyphs"><tspan fill="#305287" stroke="#305287">Post-ASCT</tspan><tspan fill="#222" stroke="#222"> vs </tspan><tspan fill="#eca23a" stroke="#eca23a">post-induction</tspan><tspan fill="#222" stroke="#222">;</tspan></text>
<text x="264.8" y="335.72" font-size="9" fill="#222" stroke-width="0.25" textLength="140.4" lengthAdjust="spacingAndGlyphs"><tspan fill="#222" stroke="#222">HR 2.03, 95% CI 1.3 – 3.2, </tspan><tspan font-style="italic" stroke="#222">P</tspan><tspan fill="#222" stroke="#222"> = .003</tspan></text>
<text x="264.8" y="347.88" font-size="9" fill="#222" stroke-width="0.25" textLength="147.2" lengthAdjust="spacingAndGlyphs"><tspan fill="#5eae5e" stroke="#5eae5e">Post-consolidation</tspan><tspan fill="#222" stroke="#222"> vs </tspan><tspan fill="#eca23a" stroke="#eca23a">post-induction</tspan><tspan fill="#222" stroke="#222">;</tspan></text>
<text x="264.8" y="360.04" font-size="9" fill="#222" stroke-width="0.25" textLength="143.2" lengthAdjust="spacingAndGlyphs"><tspan fill="#222" stroke="#222">HR 3.02, 95% CI 1.8 – 5.1, </tspan><tspan font-style="italic" stroke="#222">P</tspan><tspan fill="#222" stroke="#222"> &lt; .0001</tspan></text>
<text x="264.8" y="372.20" font-size="9" fill="#222" stroke-width="0.25" textLength="157.1" lengthAdjust="spacingAndGlyphs"><tspan fill="#cd2f7c" stroke="#cd2f7c">Post-Y1 maintenance</tspan><tspan fill="#222" stroke="#222"> vs </tspan><tspan fill="#eca23a" stroke="#eca23a">post-induction</tspan><tspan fill="#222" stroke="#222">;</tspan></text>
<text x="264.8" y="384.36" font-size="9" fill="#222" stroke-width="0.25" textLength="143.2" lengthAdjust="spacingAndGlyphs"><tspan fill="#222" stroke="#222">HR 3.05, 95% CI 1.8 – 5.2, </tspan><tspan font-style="italic" stroke="#222">P</tspan><tspan fill="#222" stroke="#222"> &lt; .0001</tspan></text>
<text x="264.8" y="396.52" font-size="9" fill="#222" stroke-width="0.25" textLength="130.8" lengthAdjust="spacingAndGlyphs"><tspan fill="#5eae5e" stroke="#5eae5e">Post-consolidation</tspan><tspan fill="#222" stroke="#222"> vs </tspan><tspan fill="#305287" stroke="#305287">post-ASCT</tspan><tspan fill="#222" stroke="#222">;</tspan></text>
<text x="264.8" y="408.68" font-size="9" fill="#222" stroke-width="0.25" textLength="140.4" lengthAdjust="spacingAndGlyphs"><tspan fill="#222" stroke="#222">HR 1.49, 95% CI 0.9 – 2.6, </tspan><tspan font-style="italic" stroke="#222">P</tspan><tspan fill="#222" stroke="#222"> = .150</tspan></text>
<text x="264.8" y="420.84" font-size="9" fill="#222" stroke-width="0.25" textLength="141.4" lengthAdjust="spacingAndGlyphs"><tspan fill="#cd2f7c" stroke="#cd2f7c">Post-Y1 maintenance</tspan><tspan fill="#222" stroke="#222"> vs </tspan><tspan fill="#305287" stroke="#305287">post-ASCT</tspan><tspan fill="#222" stroke="#222">;</tspan></text>
<text x="264.8" y="433.00" font-size="9" fill="#222" stroke-width="0.25" textLength="140.4" lengthAdjust="spacingAndGlyphs"><tspan fill="#222" stroke="#222">HR 1.50, 95% CI 0.9 – 2.6, </tspan><tspan font-style="italic" stroke="#222">P</tspan><tspan fill="#222" stroke="#222"> = .150</tspan></text>
<text x="264.8" y="445.16" font-size="9" fill="#222" stroke-width="0.25" textLength="173.7" lengthAdjust="spacingAndGlyphs"><tspan fill="#cd2f7c" stroke="#cd2f7c">Post-Y1 maintenance</tspan><tspan fill="#222" stroke="#222"> vs </tspan><tspan fill="#5eae5e" stroke="#5eae5e">post-consolidation</tspan><tspan fill="#222" stroke="#222">;</tspan></text>
<text x="264.8" y="457.32" font-size="9" fill="#222" stroke-width="0.25" textLength="134.6" lengthAdjust="spacingAndGlyphs"><tspan fill="#222" stroke="#222">HR 1.01, 95% CI 0.6 – 1.8, </tspan><tspan font-style="italic" stroke="#222">P</tspan><tspan fill="#222" stroke="#222"> = .97</tspan></text>
</svg></body></html>
